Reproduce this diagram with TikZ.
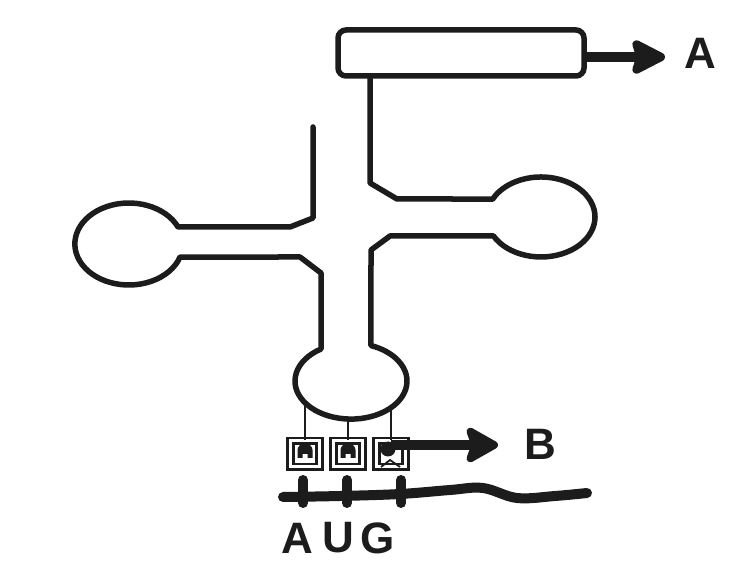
\documentclass[tikz,border=0pt]{standalone}
\usepackage{fontspec}
\setmainfont{Liberation Sans}
\usetikzlibrary{arrows.meta}
\definecolor{ink}{HTML}{1C1C1C}
\begin{document}
\begin{tikzpicture}[x=1pt,y=-1pt,
  strand/.style={draw=ink, line width=5.5pt, line join=round, line cap=round},
  link/.style={draw=ink, line width=2.8pt},
  pointer/.style={draw=ink, line width=10pt},
  lbl/.style={text=ink, font=\fontsize{44}{44}\bfseries\selectfont, inner sep=0pt},
  codonbox/.style={draw=ink, line width=2.8pt, double=white, double distance=3pt,
    minimum width=29pt, minimum height=26pt, inner sep=0pt},
  tooth/.pic={\fill[ink] (-7.5,7) -- (-7.5,-1) arc[start angle=180, end angle=360, x radius=7.5, y radius=6.5]
      -- (7.5,7) -- (2.5,7) -- (2.5,3) -- (-2.5,3) -- (-2.5,7) -- cycle;},
]
% page
\fill[white] (0,0) rectangle (737,569);
\useasboundingbox (0,0) rectangle (737,569);

% acceptor box with its pointer
\node[draw=ink, line width=5.5pt, rounded corners=8pt, minimum width=246pt, minimum height=46pt] (acceptor) at (461,53) {};
\node[lbl] (lblA) at (700,53) {A};
\coordinate (tipA) at (665,57);
\draw[pointer, -{Stealth[length=40pt,width=40pt,inset=6pt,round]}] (acceptor.east |- tipA) -- (tipA);

% cloverleaf backbone: 5' strand, D arm, anticodon loop, T arm, 3' strand
\draw[strand] (313,127) -- (313,218) -- (290,227) -- (178,227)
  arc[start angle=-24.5, end angle=-341.5, x radius=54, y radius=41]
  -- (300,257) -- (321,273) -- (321,349)
  arc[start angle=237.6, end angle=-69.1, x radius=56, y radius=38]
  -- (371,250) -- (390,236) -- (493.5,236)
  arc[start angle=151.6, end angle=-153.3, x radius=54, y radius=40]
  -- (397,199) -- (370,183) -- (370,0 |- acceptor.south);

% anticodon bases
\node[codonbox] (b1) at (305,454) {};
\node[codonbox] (b2) at (348,454) {};
\node[codonbox] (b3) at (391,454) {};
\draw[link] (305,401) -- (b1.north);
\draw[link] (348,417) -- (b2.north);
\draw[link] (391,405) -- (b3.north);
\pic at (305,451) {tooth};
\pic at (348,451) {tooth};
\fill[ink] (388,449) circle[radius=7.5];
\draw[ink, line width=1.8pt] (381,467) -- (390,460) -- (400,467);

% pointer to the third base
\node[lbl] (lblB) at (540,444) {B};
\coordinate (tipB) at (498,445);
\draw[pointer, -{Stealth[length=38pt,width=42pt,inset=7pt,round]}] (b3.center |- tipB) -- (tipB);

% mRNA strand and codon
\draw[ink, line width=10pt, line cap=round] plot[smooth, tension=0.6] coordinates
  {(283,497) (340,496) (400,494) (450,490) (483,488) (517,498) (555,496) (587,493)};
\draw[ink, line width=10pt, line cap=round] (303,480) -- (303,503);
\draw[ink, line width=10pt, line cap=round] (347,480) -- (347,503);
\draw[ink, line width=10pt, line cap=round] (401,480) -- (401,503);

\node[lbl] (nA) at (297,538) {A};
\node[lbl] (nU) at (338,538) {U};
\node[lbl] (nG) at (378,538) {G};
\end{tikzpicture}
\end{document}
